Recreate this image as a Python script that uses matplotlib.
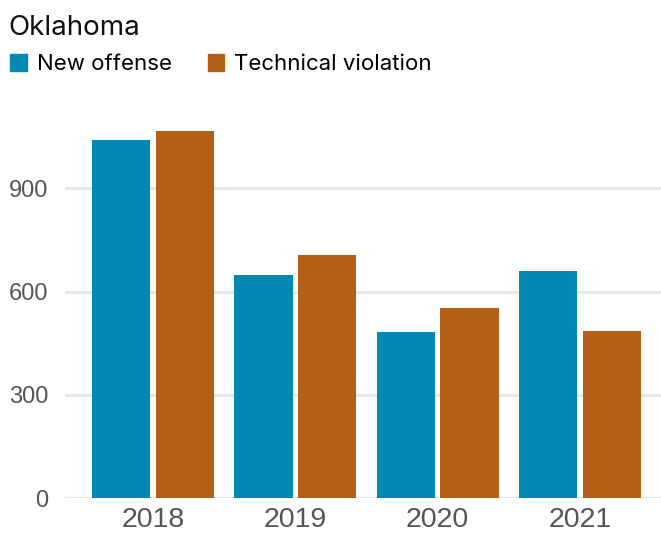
import numpy as np
import matplotlib.pyplot as plt
from matplotlib.patches import Patch

# Oklahoma prison admissions by type
years = ["2018", "2019", "2020", "2021"]
new_offense = [1040, 648, 483, 660]
technical_violation = [1066, 706, 553, 486]
y_ticks = [0, 300, 600, 900]

blue = "#0089B3"
orange = "#B35F16"

fig = plt.figure(figsize=(6.61, 5.36), dpi=100)
ax = fig.add_axes([65 / 661, 37.7 / 536, 596 / 661, 378.9 / 536])

x = np.arange(len(years))
w = 0.41
ax.bar(x - 0.224, new_offense, width=w, color=blue, zorder=3)
ax.bar(x + 0.224, technical_violation, width=w, color=orange, zorder=3)

ax.set_xlim(-0.618, 3.57)
ax.set_ylim(0, 1100)
ax.set_yticks(y_ticks)
ax.set_yticklabels([str(v) for v in y_ticks])
ax.set_xticks(x)
ax.set_xticklabels(years)

for v in y_ticks:
    ax.axhline(v, color="#e8e8e8", linewidth=2.2, zorder=1)

for s in ax.spines.values():
    s.set_visible(False)
ax.tick_params(axis="both", length=0)
ax.tick_params(axis="y", pad=12, labelsize=17, labelcolor="#555555")
ax.tick_params(axis="x", pad=6, labelsize=20.5, labelcolor="#555555")
for lab in ax.get_xticklabels() + ax.get_yticklabels():
    lab.set_family("Liberation Sans")

fig.text(8 / 661, 1 - 35 / 536, "Oklahoma", fontsize=20, family="Inter",
         color="#111111", va="baseline")

handles = [Patch(color=blue, label="New offense"),
           Patch(color=orange, label="Technical violation")]
fig.legend(handles=handles, loc="upper left", bbox_to_anchor=(-3 / 661, 1 - 41 / 536),
           ncol=2, frameon=False, prop={"family": "Inter", "size": 16},
           handlelength=0.75, handleheight=0.75, handletextpad=0.45,
           columnspacing=1.6, borderaxespad=0.3, borderpad=0.3)

fig.savefig("out.png", dpi=100)
